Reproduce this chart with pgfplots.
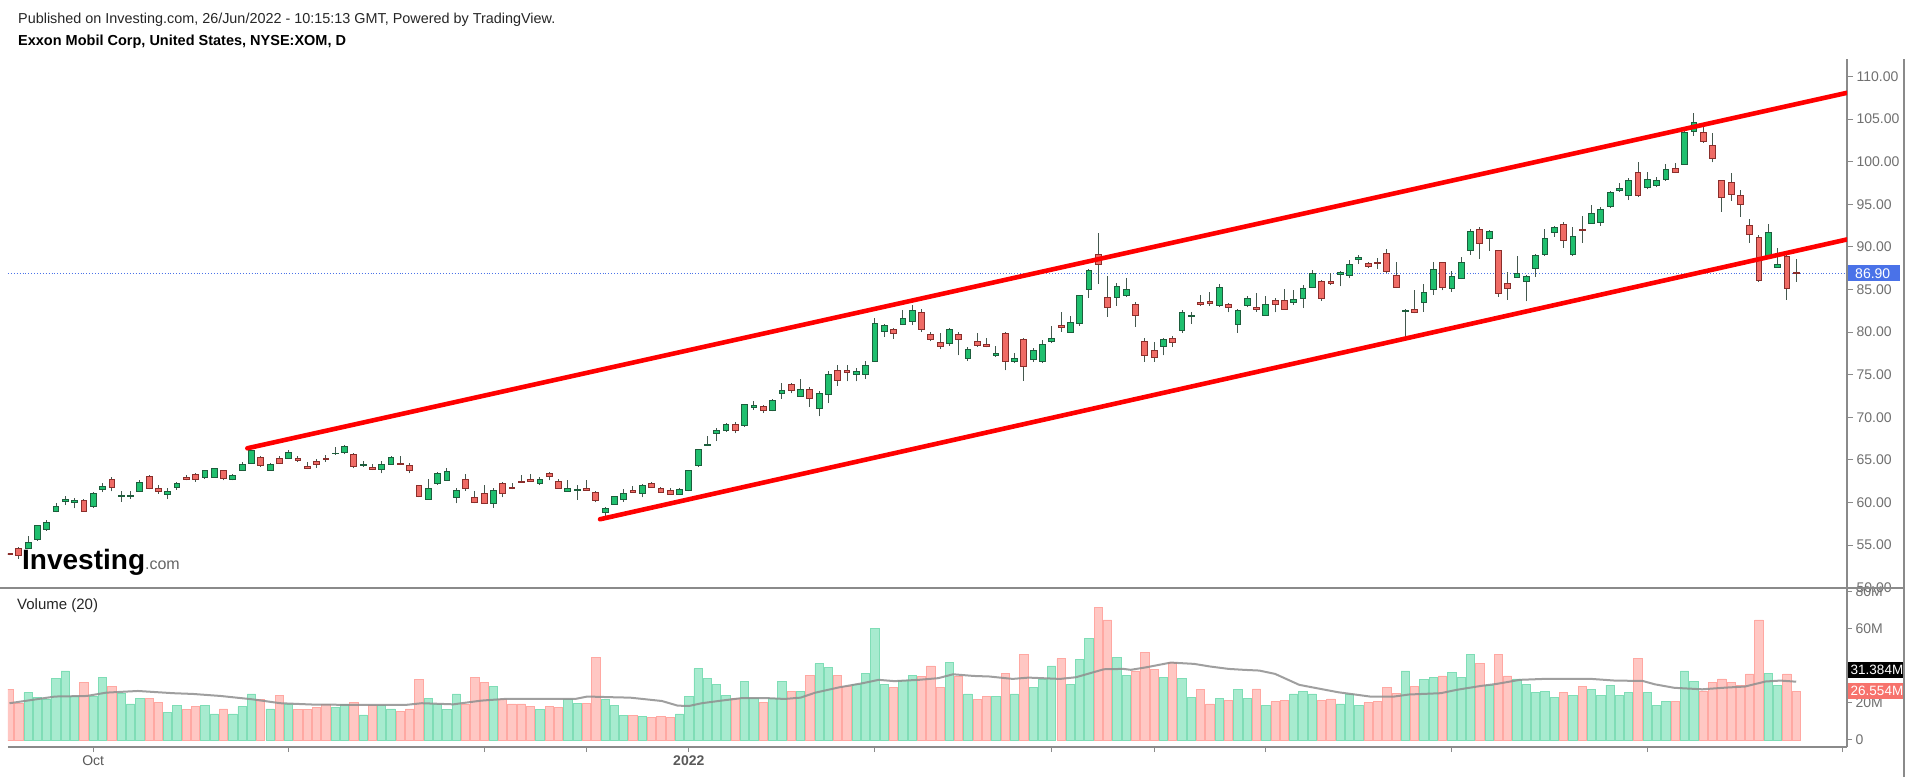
\documentclass[border=0pt]{standalone}
\usepackage{pgfplots}
\pgfplotsset{compat=1.18}
\usepackage{pgfplotstable}
\usepackage{fontspec}
\setmainfont{Liberation Sans}

\definecolor{cgreen}{HTML}{1FBF6E}
\definecolor{cgreenline}{HTML}{1C5E3C}
\definecolor{cred}{HTML}{EF6B65}
\definecolor{credline}{HTML}{8A2E2B}
\definecolor{wick}{HTML}{44584E}
\definecolor{vgreen}{HTML}{A7EBCF}
\definecolor{vgreenline}{HTML}{7FDDB6}
\definecolor{vred}{HTML}{FFC7C3}
\definecolor{vredline}{HTML}{FFA8A2}
\definecolor{magray}{HTML}{8F8F8F}
\definecolor{axisgray}{HTML}{8A8A8A}
\definecolor{labgray}{HTML}{707070}
\definecolor{chan}{HTML}{FF0000}
\definecolor{lastblue}{HTML}{4A72E8}
\definecolor{lastred}{HTML}{F7726C}

% candle body drawn from the two ends of an error bar
\newcommand\candlebody[4]{%
  \path #3 coordinate (cbA);
  \path #4 coordinate (cbB);
  \filldraw[draw=#1, fill=#2, line width=0.9pt] ([xshift=-2.9pt]cbA) rectangle ([xshift=2.9pt]cbB);}

\pgfplotsset{
  greenbody/.style={error bars/draw error bar/.code 2 args={\candlebody{cgreenline}{cgreen}{##1}{##2}}},
  redbody/.style={error bars/draw error bar/.code 2 args={\candlebody{credline}{cred}{##1}{##2}}},
}

% i = trading day index (0 = 20 Sep 2021), o h l c, v = volume in M
\pgfplotstableread{
i o h l c v
2 54.55 56.1 54.5 55.3 25.5
3 55.6 57.4 55.5 57.25 23.0
4 56.8 58.0 56.7 57.7 22.1
5 58.9 59.9 58.85 59.5 33.1
6 60.1 60.7 59.7 60.3 37.2
7 60.0 60.5 59.3 60.2 23.4
9 59.5 61.2 59.4 61.1 23.4
10 61.5 62.3 61.2 61.9 33.6
12 60.7 61.3 60.1 60.8 25.2
13 60.7 61.3 60.4 60.8 19.4
14 61.35 62.6 61.3 62.3 22.3
17 60.9 61.7 60.4 61.35 14.7
18 61.8 62.45 61.5 62.2 18.7
21 62.96 63.8 62.8 63.7 18.7
22 62.96 64.1 62.9 64.0 14.0
24 62.7 63.3 62.6 63.2 14.0
25 63.8 64.8 63.7 64.5 18.0
26 64.6 66.2 64.5 66.1 24.8
28 63.8 64.6 63.7 64.5 16.7
30 65.2 66.2 65.1 65.9 19.4
35 65.7 66.55 65.6 65.8 17.3
36 65.9 66.75 65.65 66.55 18.9
38 64.3 64.9 64.2 64.5 13.5
40 63.9 64.9 63.4 64.5 18.7
41 64.5 65.5 64.4 65.3 16.7
45 60.4 62.7 60.3 61.7 22.3
46 62.25 63.6 62.1 63.35 19.2
47 62.6 64.1 62.6 63.6 16.2
48 60.6 61.7 59.9 61.4 24.8
52 59.9 61.7 59.4 61.4 28.8
57 62.2 63.0 62.1 62.7 16.2
60 61.35 62.6 61.3 61.65 21.6
61 61.4 62.05 60.3 61.5 19.6
64 58.82 59.5 58.2 59.33 21.6
65 59.8 60.8 59.8 60.7 18.7
66 60.3 61.55 60.1 61.1 13.3
68 61.1 62.2 60.6 62.0 12.6
72 60.9 61.7 60.85 61.5 14.0
73 61.4 63.8 61.3 63.75 23.4
74 64.3 66.25 64.2 66.2 38.3
75 66.65 67.8 66.6 66.85 33.1
76 68.1 68.7 67.2 68.5 30.0
77 68.45 69.3 68.3 69.1 24.1
79 69.0 71.57 68.9 71.45 31.5
80 71.2 71.96 70.9 71.4 22.5
82 70.8 72.2 70.7 72.0 22.5
83 72.8 73.99 72.2 73.2 31.5
85 72.5 74.5 72.4 73.3 26.3
87 71.0 73.1 70.1 72.8 41.0
88 72.7 75.4 71.65 75.05 39.0
91 75.05 75.75 74.2 75.4 30.0
92 75.05 76.6 74.5 76.1 36.0
93 76.5 81.6 76.5 81.0 60.3
94 80.05 80.95 79.4 80.76 30.0
96 80.95 82.6 80.8 81.6 32.0
97 81.2 83.2 80.8 82.5 34.9
101 78.7 80.45 78.4 80.25 41.7
103 76.9 78.3 76.6 78.0 24.8
106 77.25 78.4 77.1 77.45 23.4
108 76.5 77.6 76.35 76.85 24.8
110 76.8 78.1 76.5 77.9 28.2
111 76.5 79.1 76.35 78.5 32.4
112 78.9 80.7 78.7 79.3 39.9
114 79.9 81.9 79.9 81.15 30.0
115 81.0 84.4 80.76 84.24 43.2
116 84.95 87.37 84.05 87.2 54.5
119 84.1 85.7 83.1 85.4 44.4
120 84.25 86.3 84.1 85.0 34.9
124 78.3 79.3 77.25 79.1 33.6
126 80.2 82.6 79.9 82.3 33.1
127 81.85 82.3 80.95 81.95 22.8
130 83.1 85.65 83.0 85.25 22.3
132 80.85 82.7 79.9 82.5 27.0
133 83.1 84.2 82.9 83.9 22.3
135 82.0 84.25 81.9 83.2 18.7
138 83.45 84.9 83.2 83.85 24.8
139 83.9 85.5 82.8 85.15 26.3
140 85.26 87.3 85.15 86.9 24.8
143 86.75 87.2 85.35 86.98 19.4
144 86.7 88.47 86.3 87.96 24.8
145 88.47 89.05 87.96 88.74 18.7
150 82.4 82.7 79.5 82.5 37.2
152 83.45 85.6 82.4 84.7 32.4
153 84.95 88.2 84.4 87.38 33.6
155 85.07 87.2 84.76 86.52 36.5
156 86.3 88.86 86.2 88.2 33.6
157 89.57 92.07 89.06 91.8 45.9
159 90.94 92.0 89.53 91.8 29.3
162 86.44 88.98 86.44 86.91 32.9
163 85.93 86.64 83.59 86.52 29.7
164 87.5 89.14 86.52 88.98 25.7
165 89.06 92.07 88.98 91.01 26.3
166 91.72 92.5 91.2 92.27 23.0
168 89.06 92.3 88.98 91.21 24.1
170 92.77 94.93 92.7 93.95 27.0
171 92.89 94.73 92.46 94.42 24.1
172 94.73 96.57 94.61 96.37 29.5
173 96.61 97.55 96.49 96.8 24.1
174 95.98 98.05 95.5 97.74 25.5
176 97.0 98.84 96.76 97.94 25.5
177 97.15 98.17 96.99 97.78 18.7
178 97.93 99.73 97.78 99.11 20.7
180 99.7 103.8 99.62 103.45 37.2
181 103.52 105.68 103.02 104.58 31.7
189 88.86 92.7 88.8 91.68 36.0
190 87.61 89.92 87.57 87.96 29.5
}\tgreen

\pgfplotstableread{
i o h l c v
0 54.0 54.1 53.8 53.9 27.0
1 54.55 54.8 53.4 53.77 19.8
8 60.2 60.4 58.9 58.97 30.9
11 62.7 62.96 61.3 61.8 29.0
15 63.1 63.2 61.55 61.6 22.3
16 61.7 62.1 61.0 61.35 20.1
19 62.9 63.2 62.6 62.65 16.2
20 63.3 63.4 62.45 62.65 18.0
23 63.7 63.8 62.6 62.8 16.7
27 65.3 65.4 64.2 64.3 21.6
29 65.2 65.4 64.5 64.6 24.1
31 65.2 65.5 64.8 64.9 16.2
32 64.2 64.7 63.9 64.0 16.2
33 64.8 65.1 64.1 64.5 17.4
34 65.2 65.6 64.8 65.1 18.9
37 65.6 65.85 64.0 64.2 20.1
39 64.1 64.5 63.8 63.9 18.7
42 64.6 65.5 64.4 64.45 15.5
43 64.4 64.6 63.4 63.7 16.7
44 62.0 62.1 60.6 60.7 32.4
49 62.7 63.3 61.4 61.6 18.9
50 60.6 61.4 59.9 60.0 33.8
51 61.1 62.1 59.8 59.9 30.9
53 62.2 62.45 60.6 61.1 22.1
54 61.8 62.3 61.55 61.7 19.4
55 62.45 63.2 62.3 62.3 19.4
56 62.65 63.35 62.4 62.5 18.0
58 63.4 63.6 62.6 63.1 18.0
59 62.5 62.7 61.6 61.7 17.3
62 61.6 62.6 61.4 61.45 19.8
63 61.15 61.4 60.0 60.2 44.4
67 61.4 61.95 61.2 61.2 13.3
69 62.2 62.45 61.7 61.8 12.1
70 61.7 61.8 61.1 61.2 12.8
71 61.4 61.7 60.9 60.9 12.2
78 69.1 69.4 68.1 68.5 22.5
81 71.26 71.45 70.5 70.75 20.1
84 73.9 74.07 72.8 73.1 26.1
86 73.3 73.5 71.2 72.2 34.9
89 75.55 76.1 73.7 74.3 34.9
90 75.55 76.1 74.2 75.25 28.8
95 80.3 80.5 79.2 79.8 28.2
98 82.3 82.7 80.05 80.3 34.2
99 79.7 80.05 78.9 79.1 39.9
100 78.8 79.85 78.0 78.3 28.2
102 79.7 79.95 77.25 79.1 34.5
104 78.9 79.85 78.3 78.4 21.6
105 78.6 79.3 78.2 78.3 23.4
107 79.85 80.05 75.5 76.5 36.0
109 79.1 79.3 74.3 75.95 45.9
113 80.76 82.3 80.05 80.57 43.7
117 89.13 91.67 85.65 87.96 71.6
118 84.1 86.6 81.8 82.9 64.7
121 83.2 83.5 80.6 82.0 37.2
122 78.9 79.3 76.5 77.3 47.3
123 77.9 78.8 76.5 77.0 37.8
125 79.3 79.55 78.3 78.8 41.7
128 83.5 84.4 83.1 83.2 27.0
129 83.6 84.7 83.1 83.4 19.4
131 83.2 83.4 82.3 82.9 21.4
134 82.9 84.55 82.4 82.6 27.5
136 83.7 84.0 82.3 83.2 20.7
137 83.7 85.1 82.6 82.7 21.4
141 85.9 86.1 83.7 83.9 21.4
142 85.9 86.98 85.5 85.65 22.1
146 88.08 88.27 87.5 87.7 20.0
147 88.16 88.66 87.4 88.0 20.7
148 89.17 89.8 86.98 87.1 28.2
149 86.7 88.27 85.15 85.2 25.2
151 82.7 84.9 82.2 82.3 29.0
154 88.2 88.2 84.9 85.27 34.5
158 92.1 92.3 88.6 90.43 41.0
160 89.57 89.65 84.17 84.49 45.9
161 85.74 87.03 83.78 85.07 34.5
167 92.66 92.97 89.92 90.7 25.5
169 92.07 93.67 90.51 91.91 29.0
175 98.72 99.93 95.83 95.98 43.9
179 99.22 99.89 98.64 98.76 20.7
182 103.45 104.5 102.24 102.35 26.4
183 101.96 103.4 99.93 100.4 30.9
184 97.78 97.78 94.14 95.82 32.9
185 97.54 98.72 95.43 96.1 30.9
186 96.02 96.68 93.56 95.0 29.3
187 92.5 93.28 90.5 91.4 35.6
188 91.09 91.4 85.85 86.05 64.7
191 88.86 89.14 83.78 85.15 35.6
192 87.0 88.55 85.93 86.9 26.3
}\tred

\begin{document}
\begin{tikzpicture}
\useasboundingbox (0,0) rectangle (1918pt,777pt);
\fill[white] (0,0) rectangle (1918pt,777pt);

% header
\node[anchor=west, inner sep=0pt, font=\fontsize{14.4}{16}\selectfont, text=black!85] at (18pt,757.4pt)
  {Published on Investing.com, 26/Jun/2022 - 10:15:13 GMT, Powered by TradingView.};
\node[anchor=west, inner sep=0pt, font=\bfseries\fontsize{14.5}{16}\selectfont, text=black] at (18pt,735.4pt)
  {Exxon Mobil Corp, United States, NYSE:XOM, D};

% price pane
\begin{axis}[
  at={(8pt,189pt)}, anchor=south west,
  scale only axis, width=1839pt, height=529pt,
  xmin=-0.16, xmax=197.46, ymin=49.96, ymax=112.05,
  axis x line=none,
  axis y line*=right,
  y axis line style={-, draw=axisgray, line width=1.2pt},
  ytick={50,55,...,110},
  yticklabel style={font=\fontsize{14}{16}\selectfont, text=labgray,
    /pgf/number format/.cd, fixed, fixed zerofill, precision=2, assume math mode=true},
  tick align=outside, major tick length=6pt,
  ytick style={draw=axisgray, line width=1pt},
]
\addplot[lastblue, dotted, line width=0.9pt] coordinates {(-0.16,86.9) (197.46,86.9)};

\addplot[draw=none, mark=none, forget plot, error bars/.cd, y dir=plus, y explicit, error mark=none,
  error bar style={draw=wick, line width=1pt}]
  table[x=i, y=l, y error expr=\thisrow{h}-\thisrow{l}] {\tgreen};
\addplot[draw=none, mark=none, forget plot, error bars/.cd, y dir=plus, y explicit, error mark=none,
  error bar style={draw=wick, line width=1pt}]
  table[x=i, y=l, y error expr=\thisrow{h}-\thisrow{l}] {\tred};
\addplot[draw=none, mark=none, forget plot, greenbody, error bars/.cd, y dir=plus, y explicit]
  table[x=i, y=o, y error expr=\thisrow{c}-\thisrow{o}] {\tgreen};
\addplot[draw=none, mark=none, forget plot, redbody, error bars/.cd, y dir=plus, y explicit]
  table[x=i, y=c, y error expr=\thisrow{o}-\thisrow{c}] {\tred};

% channel
\addplot[chan, line width=4.6pt, line cap=round] coordinates {(25.56,66.36) (197.46,108.08)};
\addplot[chan, line width=4.6pt, line cap=round] coordinates {(63.46,58.03) (197.46,90.87)};
\end{axis}

% volume pane
\begin{axis}[
  at={(8pt,30pt)}, anchor=south west,
  scale only axis, width=1839pt, height=159pt,
  xmin=-0.16, xmax=197.46, ymin=-3.8, ymax=81.9,
  axis x line*=bottom, axis y line*=right,
  x axis line style={-, draw=axisgray, line width=1.6pt},
  y axis line style={-, draw=axisgray, line width=1.2pt},
  xtick={9,30,51,62,73,93,112,123,135,155,176,197},
  xticklabels={Oct,,,,\textbf{2022},,,,,,,},
  xticklabel style={font=\fontsize{14}{16}\selectfont, text=labgray!80!black},
  ytick={0,20,40,60,80}, yticklabels={0,20M,,60M,80M},
  yticklabel style={font=\fontsize{14}{16}\selectfont, text=labgray},
  tick align=outside, major tick length=5pt,
  tick style={draw=axisgray, line width=1pt},
]
\addplot[ybar, bar width=8.3pt, bar shift=0pt, fill=vgreen, draw=vgreenline, line width=0.8pt]
  table[x=i, y=v] {\tgreen};
\addplot[ybar, bar width=8.3pt, bar shift=0pt, fill=vred, draw=vredline, line width=0.8pt]
  table[x=i, y=v] {\tred};
\addplot[magray, line width=2pt, opacity=0.85] coordinates {
(0,19.8)(4.9,23.4)(8.3,23.7)(10.4,25.5)(13.8,26.4)(17.6,25.2)(19.7,24.8)(22.7,23.7)(26.1,21.9)
(29.1,19.8)(32.5,19.1)(36.7,18.9)(42.6,18.9)(44.3,19.8)(47.7,19.2)(50.7,21.2)(53.2,22.1)(57.9,22.1)
(60.8,22.1)(62.1,23.4)(65,23.0)(66.7,22.8)(70.1,21.0)(71.8,18.5)(73,18.3)(74.4,19.8)(76.5,21.2)
(78.6,22.5)(81.6,22.5)(83.3,22.1)(85,22.8)(86.6,25.5)(89.2,28.4)(91.7,30.6)(93.4,32.4)(95.1,31.7)
(97.7,32.4)(99.8,33.3)(101.4,35.4)(103.6,34.5)(105.3,34.2)(107.8,32.9)(109.5,33.6)(112.9,32.9)
(114.6,33.8)(117.6,38.1)(119.7,38.3)(120.5,37.8)(122.2,39.2)(124.8,41.7)(127.3,41.0)(129,39.6)
(131,38.3)(132.6,37.8)(134.3,37.4)(136,35.6)(138.6,29.7)(141.1,27.3)(142.8,25.7)(146.2,23.4)
(148.8,23.4)(150.4,24.5)(153.8,25.2)(155.5,27.0)(158.1,29.1)(159.8,30.2)(162.3,32.4)(164.9,32.9)
(170,32.9)(172.5,32.0)(175.5,31.8)(176.8,30.0)(178.9,28.1)(181.9,27.3)(184.4,28.2)(186.5,28.8)
(188.7,31.5)(190.3,32.0)(192,31.4)};
\end{axis}

% pane separator and right border
\draw[axisgray, line width=1.2pt] (0,189pt) -- (1904pt,189pt);
\draw[axisgray, line width=1.2pt] (1904pt,0) -- (1904pt,718pt);

% last value labels
\node[anchor=west, fill=lastblue, text=white, inner sep=0pt, minimum height=16pt, minimum width=52pt,
  text width=52pt, align=left, font=\fontsize{14}{16}\selectfont] at (1848pt,503.7pt) {\hspace*{7pt}86.90};
\node[anchor=west, fill=black, text=white, inner sep=0pt, minimum height=16pt, minimum width=55pt,
  text width=55pt, align=left, font=\fontsize{13.5}{15}\selectfont] at (1848pt,106.7pt) {\hspace*{2.5pt}31.384M};
\node[anchor=west, fill=lastred, text=white, inner sep=0pt, minimum height=16pt, minimum width=55pt,
  text width=55pt, align=left, font=\fontsize{13.5}{15}\selectfont] at (1848pt,86pt) {\hspace*{2.5pt}26.554M};

% logo and pane title
\node[anchor=base west, inner sep=0pt] at (22pt,208pt)
  {\fontsize{28}{30}\selectfont\bfseries Investing\fontsize{16}{18}\selectfont\mdseries\textcolor{black!60}{.com}};
\node[anchor=west, inner sep=0pt, font=\fontsize{15}{17}\selectfont, text=black!85] at (17pt,171.5pt) {Volume (20)};
\end{tikzpicture}
\end{document}
